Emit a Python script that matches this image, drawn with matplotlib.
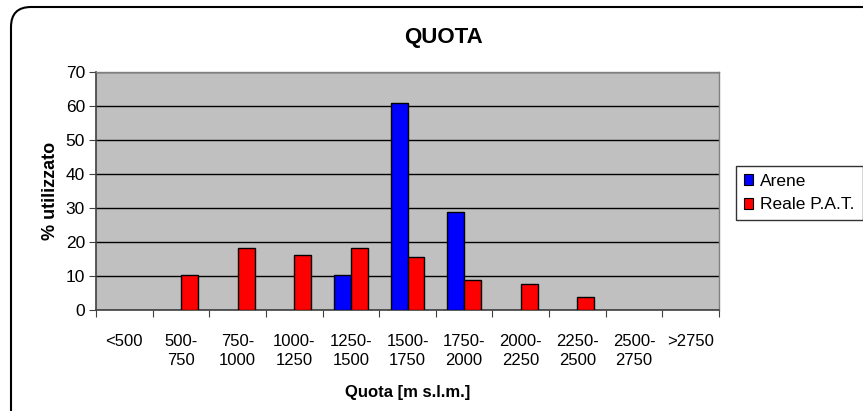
import matplotlib
matplotlib.use("Agg")
import matplotlib.pyplot as plt
import numpy as np
from matplotlib.patches import FancyBboxPatch, Patch

categories = ["<500", "500-\n750", "750-\n1000", "1000-\n1250", "1250-\n1500",
              "1500-\n1750", "1750-\n2000", "2000-\n2250", "2250-\n2500",
              "2500-\n2750", ">2750"]
arene = [0, 0, 0, 0, 10.3, 60.8, 28.7, 0, 0, 0, 0]
reale = [0, 10.3, 18.1, 16.1, 18.1, 15.6, 8.9, 7.7, 3.9, 0, 0]
yticks = [0, 10, 20, 30, 40, 50, 60, 70]

plt.rcParams['font.family'] = ['Liberation Sans', 'DejaVu Sans']

fig = plt.figure(figsize=(8.63, 4.11), dpi=100)
ax = fig.add_axes([96/863, 1-310/411, (719-96)/863, (310-72)/411])
ax.set_facecolor('#C0C0C0')

x = np.arange(len(categories))
w = 0.3
lw_a = [1.0 if v > 0 else 0 for v in arene]
lw_r = [1.0 if v > 0 else 0 for v in reale]
ax.bar(x - w/2, arene, w, color='#0000FF', edgecolor='black', linewidth=lw_a, label='Arene', zorder=3)
ax.bar(x + w/2, reale, w, color='#FF0000', edgecolor='black', linewidth=lw_r, label='Reale P.A.T.', zorder=3)

ax.set_xlim(-0.5, len(categories) - 0.5)
ax.set_ylim(0, 70)
ax.set_yticks(yticks)
ax.tick_params(axis='y', direction='out', length=5, labelsize=12.5, color='#404040', pad=3)
ax.yaxis.grid(True, color='black', linewidth=1, zorder=1)
ax.set_axisbelow(True)

ax.set_xticks(np.arange(len(categories) + 1) - 0.5)
ax.set_xticklabels([])
ax.tick_params(axis='x', which='major', direction='out', length=5, color='#404040')
ax.set_xticks(x, minor=True)
ax.set_xticklabels(categories, minor=True, fontsize=12, linespacing=1.4, multialignment='center')
ax.tick_params(axis='x', which='minor', length=0, pad=17)

for s in ['top', 'right']:
    ax.spines[s].set_color('#808080')
    ax.spines[s].set_linewidth(1)
for s in ['left', 'bottom']:
    ax.spines[s].set_color('#404040')
    ax.spines[s].set_linewidth(1.2)

ax.set_ylabel('% utilizzato', fontsize=13, fontweight='bold', labelpad=5)
ax.set_xlabel('Quota [m s.l.m.]', fontsize=12, fontweight='bold', labelpad=12)
fig.text(443/863, 1-37/411, 'QUOTA', ha='center', va='center', fontsize=16, fontweight='bold')

handles = [Patch(facecolor='#0000FF', edgecolor='black', linewidth=0.8),
           Patch(facecolor='#FF0000', edgecolor='black', linewidth=0.8)]
leg = fig.legend(handles, ['Arene', 'Reale P.A.T.'], loc='upper left',
                 bbox_to_anchor=(736/863, 1-166/411), fontsize=12.5, frameon=True,
                 fancybox=False, edgecolor='black', handlelength=0.55, handleheight=0.55,
                 handletextpad=0.4, borderpad=0.45, labelspacing=0.5, borderaxespad=0)
leg.get_frame().set_linewidth(1)

frame = FancyBboxPatch((11, -30), 880, 404 + 30,
                       boxstyle='round,pad=0,rounding_size=20',
                       transform=None, facecolor='none', edgecolor='black',
                       linewidth=1.5, clip_on=False)
fig.patches.append(frame)

fig.savefig('out.png', dpi=100)
